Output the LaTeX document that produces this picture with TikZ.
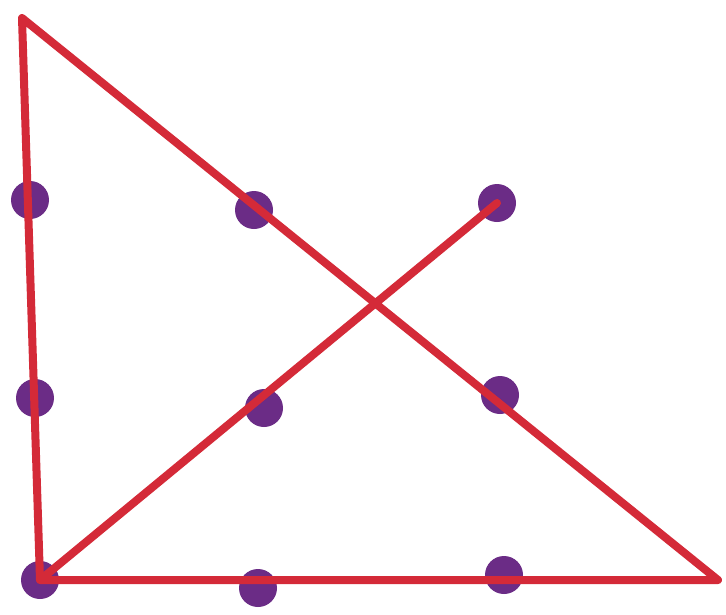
\documentclass[tikz,border=0pt]{standalone}
\definecolor{linered}{HTML}{D42A38}
\definecolor{dotpurple}{HTML}{6B2C86}
\tikzset{
  dot/.style={circle,fill=dotpurple,minimum size=38pt,inner sep=0pt},
  redline/.style={draw=linered,line width=8pt,line cap=round,line join=round}
}
\begin{document}
\begin{tikzpicture}[x=1pt,y=-1pt]
\useasboundingbox (0,0) rectangle (726,614);
\fill[white] (0,0) rectangle (726,614);
\node[dot] (d11) at (30,200) {};
\node[dot] (d12) at (254,210) {};
\node[dot] (d13) at (497,203) {};
\node[dot] (d21) at (35,398) {};
\node[dot] (d22) at (264,408) {};
\node[dot] (d23) at (500,395) {};
\node[dot] (d31) at (40,580) {};
\node[dot] (d32) at (258,588) {};
\node[dot] (d33) at (504,575) {};
\coordinate (top) at (22,18);
\coordinate (br) at (718,580);
\draw[redline] (d31.center) -- (top) -- (br) -- (d31.center) -- (d13.center);
\end{tikzpicture}
\end{document}
